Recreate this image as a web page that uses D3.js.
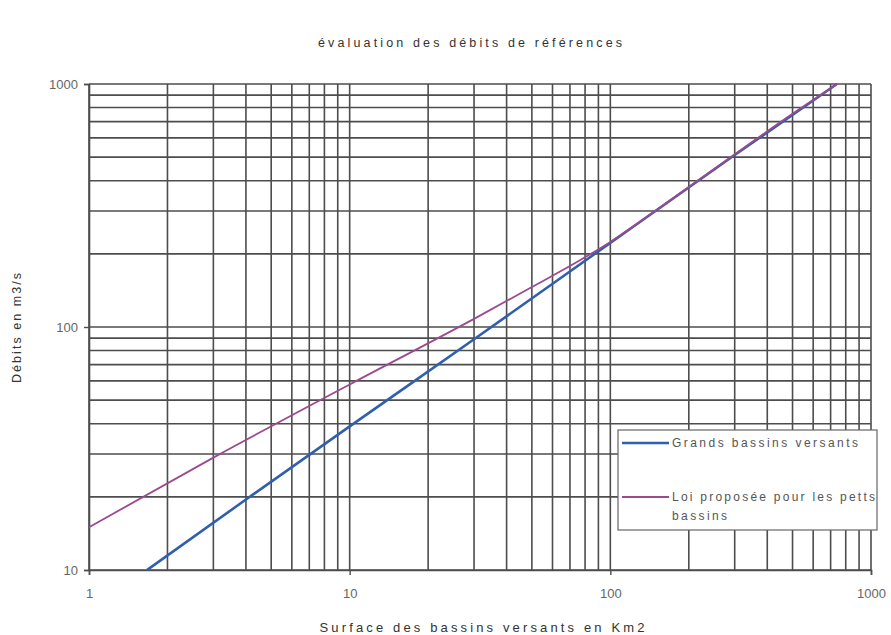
<!DOCTYPE html>
<html>
<head>
<meta charset="utf-8">
<script src="https://cdn.jsdelivr.net/npm/d3@7"></script>
<style>
  html, body { margin: 0; padding: 0; background: #fff; }
  svg { display: block; font-family: "Liberation Sans", Arial, sans-serif; }
</style>
</head>
<body>
<svg id="chart" width="891" height="635"></svg>
<script>
// Surface (km²) / débit (m3/s) pairs for each curve
const grandsSurface = [1.67, 4, 10, 30, 100, 300, 740];
const grandsDebit   = [10, 19.5, 39, 89, 222, 510, 1000];

const petitsSurface = [1, 3, 10, 30, 50, 75, 100, 200, 500, 740];
const petitsDebit   = [15, 29, 58, 108, 146, 186, 224, 377, 754, 1000];

const xTicks = [1, 10, 100, 1000];
const yTicks = [10, 100, 1000];

const seriesColors = ["#2f5fae", "#9c4a8e"];

const titleText = "évaluation des débits de références";
const xTitle = "Surface des bassins versants en Km2";
const yTitle = "Débits en m3/s";

const W = 891, H = 635;
const m = { left: 89, right: 20, top: 84, bottom: 65 };
const svg = d3.select("#chart");

const x = d3.scaleLog().domain([1, 1000]).range([m.left, W - m.right]);
const y = d3.scaleLog().domain([10, 1000]).range([H - m.bottom, m.top]);

// every 1..9 multiple within each decade
const gridX = [], gridY = [];
for (let d = 1; d <= 100; d *= 10) for (let k = 1; k <= 9; k++) gridX.push(k * d);
gridX.push(1000);
for (let d = 10; d <= 100; d *= 10) for (let k = 1; k <= 9; k++) gridY.push(k * d);
gridY.push(1000);

const grid = svg.append("g").attr("stroke", "#4d4d4d").attr("stroke-width", 1.6);
grid.selectAll("line.v").data(gridX).join("line")
  .attr("x1", d => x(d)).attr("x2", d => x(d))
  .attr("y1", y(10)).attr("y2", y(1000));
grid.selectAll("line.h").data(gridY).join("line")
  .attr("y1", d => y(d)).attr("y2", d => y(d))
  .attr("x1", x(1)).attr("x2", x(1000));

// axes with outward ticks at each decade
const xAxis = svg.append("g")
  .attr("transform", `translate(0,${H - m.bottom})`)
  .call(d3.axisBottom(x).tickValues(xTicks).tickFormat(d3.format("d")).tickSize(5).tickPadding(14));
const yAxis = svg.append("g")
  .attr("transform", `translate(${m.left},0)`)
  .call(d3.axisLeft(y).tickValues(yTicks).tickFormat(d3.format("d")).tickSize(5).tickPadding(6));
[xAxis, yAxis].forEach(a => {
  a.select(".domain").attr("stroke", "#4d4d4d").attr("stroke-width", 1.6);
  a.selectAll(".tick line").attr("stroke", "#4d4d4d").attr("stroke-width", 1.4);
  a.selectAll(".tick text").attr("fill", "#666").attr("font-size", 13)
    .attr("font-family", "'Liberation Sans', Arial, sans-serif");
});

// curves
const line = d3.line().x(d => x(d[0])).y(d => y(d[1])).curve(d3.curveMonotoneX);
const grands = grandsSurface.map((s, i) => [s, grandsDebit[i]]);
const petits = petitsSurface.map((s, i) => [s, petitsDebit[i]]);
svg.append("path").datum(grands).attr("d", line)
  .attr("fill", "none").attr("stroke", seriesColors[0]).attr("stroke-width", 2.6);
svg.append("path").datum(petits).attr("d", line)
  .attr("fill", "none").attr("stroke", seriesColors[1]).attr("stroke-width", 1.8);

// title and axis titles
svg.append("text").attr("x", 470).attr("y", 47).attr("text-anchor", "middle")
  .attr("font-size", 12.5).attr("fill", "#333")
  .attr("textLength", 304).attr("lengthAdjust", "spacing").text(titleText);
svg.append("text").attr("x", 482).attr("y", 632).attr("text-anchor", "middle")
  .attr("font-size", 13).attr("fill", "#333")
  .attr("textLength", 325).attr("lengthAdjust", "spacing").text(xTitle);
svg.append("text").attr("transform", "translate(21,328) rotate(-90)")
  .attr("text-anchor", "middle").attr("font-size", 12.5).attr("fill", "#333")
  .attr("textLength", 110).attr("lengthAdjust", "spacing").text(yTitle);

// legend
const lg = svg.append("g");
lg.append("rect").attr("x", 618).attr("y", 430).attr("width", 259).attr("height", 100)
  .attr("fill", "#fff").attr("stroke", "#666").attr("stroke-width", 1.2);
const legendRows = [
  { lines: [["Grands bassins versants", 186]], y: 443, color: seriesColors[0], w: 2.6 },
  { lines: [["Loi proposée pour les petts", 203], ["bassins", 55]], y: 497, color: seriesColors[1], w: 1.8 }
];
legendRows.forEach(r => {
  lg.append("line").attr("x1", 622).attr("x2", 669).attr("y1", r.y).attr("y2", r.y)
    .attr("stroke", r.color).attr("stroke-width", r.w);
  r.lines.forEach(([s, len], i) => {
    lg.append("text").attr("x", 672).attr("y", r.y + 4 + i * 19)
      .attr("font-size", 12).attr("fill", "#555")
      .attr("textLength", len).attr("lengthAdjust", "spacing").text(s);
  });
});
</script>
</body>
</html>
